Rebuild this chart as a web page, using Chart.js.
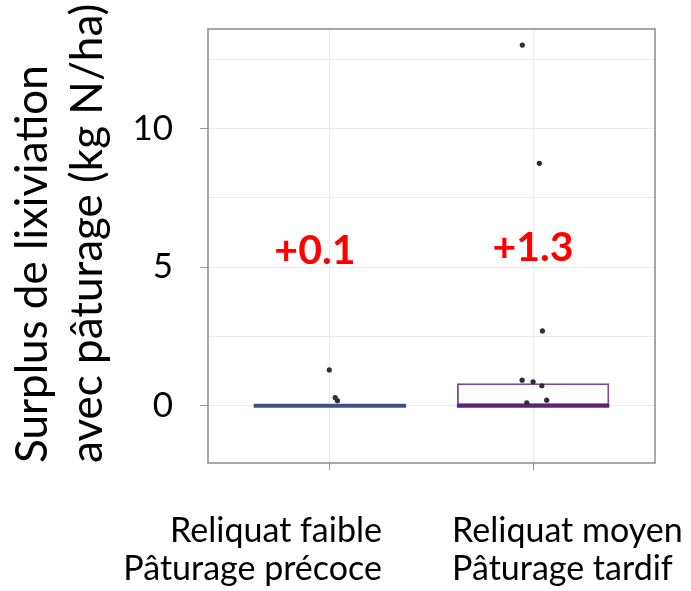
<!DOCTYPE html>
<html>
<head>
<meta charset="utf-8">
<script src="https://cdn.jsdelivr.net/npm/chart.js@4.4.1/dist/chart.umd.min.js"></script>
<style>
  html, body { margin: 0; padding: 0; background: #ffffff; }
  #wrap { width: 691px; height: 591px; }
</style>
</head>
<body>
<div id="wrap"><canvas id="c" width="691" height="591"></canvas></div>
<script>
// ---- data ----
const categories = [['Reliquat faible', 'Pâturage précoce'], ['Reliquat moyen', 'Pâturage tardif']];
const categoryPos = [1, 2];
const q1Values = [0, 0];
const medianValues = [0, 0];
const q3Values = [0, 0.81];
const meanDiffLabels = ['+0.1', '+1.3'];
const pointsX1 = [0.997, 1.026, 1.037];
const pointsY1 = [1.29, 0.29, 0.18];
const pointsX2 = [1.947, 2.031, 2.046, 1.946, 2.0, 2.043, 2.067, 1.969];
const pointsY2 = [13.02, 8.75, 2.7, 0.92, 0.86, 0.72, 0.2, 0.1];
const yTickValues = [0, 2.5, 5, 7.5, 10, 12.5];
const yMajorTicks = [0, 5, 10];

// ---- styles ----
const boxColors = ['#3f5089', '#5a2574'];
const boxEdgeColors = ['#3f5089', '#7a4c93'];
const boxHalfWidth = 0.375;
const pointColor = '#2e2b42';
const gridColor = '#ebebeb';
const frameColor = '#8a8a8a';

const medianDatasets = categoryPos.map((c, i) => ({
  type: 'line',
  data: [{ x: c - boxHalfWidth, y: medianValues[i] }, { x: c + boxHalfWidth, y: medianValues[i] }],
  borderColor: boxColors[i],
  borderWidth: 4,
  pointRadius: 0,
  borderCapStyle: 'butt',
  order: 1
}));

const frame = {
  id: 'frame',
  beforeDatasetsDraw(chart) {
    const { ctx, chartArea: a } = chart;
    ctx.save();
    ctx.strokeStyle = frameColor;
    ctx.lineWidth = 1.5;
    ctx.strokeRect(a.left, a.top, a.right - a.left, a.bottom - a.top);
    ctx.restore();
  }
};

const textLabels = {
  id: 'textLabels',
  afterDraw(chart) {
    const { ctx } = chart;
    const xs = chart.scales.x, ys = chart.scales.y;
    ctx.save();
    ctx.fillStyle = '#000';
    ctx.font = '34px Lato';
    ctx.textBaseline = 'alphabetic';
    categories.forEach((lines, i) => {
      const px = xs.getPixelForValue(categoryPos[i]);
      const left = i === 0;
      ctx.textAlign = left ? 'right' : 'left';
      const x = left ? px + 52 : px - 81;
      lines.forEach((t, j) => ctx.fillText(t, x, 542 + j * 38));
    });
    ctx.fillStyle = '#ff0000';
    ctx.font = 'bold 41px Lato';
    ctx.textAlign = 'center';
    ctx.textBaseline = 'middle';
    meanDiffLabels.forEach((t, i) => {
      const px = xs.getPixelForValue(categoryPos[i]) + (i === 0 ? -15 : 0);
      const py = ys.getPixelForValue(i === 0 ? 5.6 : 5.7);
      ctx.fillText(t, px, py);
    });
    ctx.restore();
  }
};

Chart.defaults.font.family = 'Lato';
Chart.defaults.color = '#000';

new Chart(document.getElementById('c'), {
  type: 'bar',
  data: {
    datasets: [
      {
        type: 'bar',
        data: categoryPos.map((c, i) => ({ x: c, y: [q1Values[i], q3Values[i]] })),
        backgroundColor: '#ffffff',
        borderColor: boxEdgeColors,
        borderWidth: 2,
        borderSkipped: false,
        barPercentage: 0.75,
        categoryPercentage: 1,
        order: 2
      },
      ...medianDatasets,
      {
        type: 'scatter',
        data: pointsX1.map((x, i) => ({ x, y: pointsY1[i] })).concat(pointsX2.map((x, i) => ({ x, y: pointsY2[i] }))),
        backgroundColor: pointColor,
        borderColor: pointColor,
        pointRadius: 2.6,
        borderWidth: 0,
        order: 0
      }
    ]
  },
  options: {
    responsive: false,
    animation: false,
    layout: { padding: { top: 29, right: 36, left: 0, bottom: 0 } },
    plugins: { legend: { display: false }, tooltip: { enabled: false } },
    scales: {
      x: {
        type: 'linear',
        min: 0.4,
        max: 2.6,
        offset: false,
        afterBuildTicks: (s) => { s.ticks = categoryPos.map(v => ({ value: v })); },
        afterFit: (s) => { s.height = 128; s.paddingLeft = 0; s.paddingRight = 0; },
        ticks: { callback: () => '', padding: 0 },
        grid: { offset: false, color: gridColor, tickColor: '#9a9a9a', tickLength: 7, lineWidth: 1 },
        border: { display: false }
      },
      y: {
        min: -2.07,
        max: 13.6,
        afterBuildTicks: (s) => { s.ticks = yTickValues.map(v => ({ value: v })); },
        afterFit: (s) => { s.width = 208; s.paddingTop = 0; s.paddingBottom = 0; },
        ticks: {
          callback: (v) => (yMajorTicks.includes(v) ? String(v) : ''),
          font: { size: 35 },
          padding: 27,
          color: '#000'
        },
        grid: {
          color: gridColor,
          lineWidth: 1,
          tickLength: 8,
          tickColor: (ctx) => (ctx.tick && yMajorTicks.includes(ctx.tick.value) ? '#9a9a9a' : 'rgba(0,0,0,0)')
        },
        border: { display: false },
        title: {
          display: true,
          text: ['Surplus de lixiviation', 'avec pâturage (kg N/ha)'],
          align: 'start',
          font: { size: 44, lineHeight: 1.25 },
          padding: { top: 5, bottom: 0 },
          color: '#000'
        }
      }
    }
  },
  plugins: [frame, textLabels]
});
</script>
</body>
</html>
